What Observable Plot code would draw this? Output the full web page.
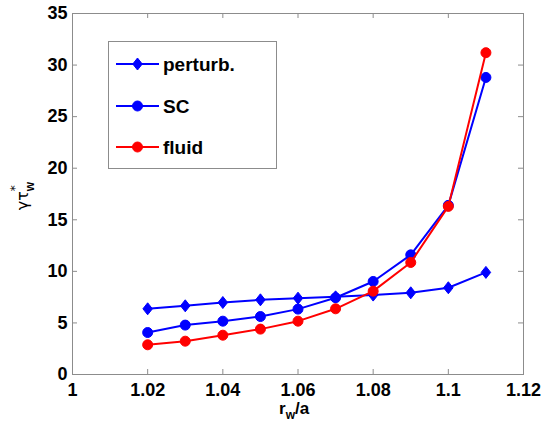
<!DOCTYPE html>
<html><head><meta charset="utf-8">
<script src="https://cdn.jsdelivr.net/npm/d3@7"></script>
<script src="https://cdn.jsdelivr.net/npm/@observablehq/plot@0.6"></script>
<style>body{margin:0;background:#fff}#chart svg{font-family:"Liberation Sans",Arial,sans-serif;background:#fff}</style>
</head><body><div id="chart"></div>
<script>
const rw = [1.02, 1.03, 1.04, 1.05, 1.06, 1.07, 1.08, 1.09, 1.10, 1.11];
const perturb = [6.37, 6.66, 6.98, 7.24, 7.40, 7.53, 7.70, 7.92, 8.41, 9.90];
const sc = [4.07, 4.79, 5.17, 5.62, 6.34, 7.44, 9.02, 11.6, 16.4, 28.8];
const fluid = [2.88, 3.23, 3.81, 4.40, 5.17, 6.37, 8.08, 10.86, 16.3, 31.2];
const seriesNames = ["perturb.", "SC", "fluid"];
const seriesColors = ["#0000ff", "#0000ff", "#ff0000"];
const seriesSymbols = ["tallDiamond", "circle", "circle"];
const xTicks = [1, 1.02, 1.04, 1.06, 1.08, 1.10, 1.12];
const yTicks = [0, 5, 10, 15, 20, 25, 30, 35];

const W = 543, H = 422;
const mL = 72, mR = 20, mT = 13, mB = 48;
const fw = W - mL - mR, fh = H - mT - mB;
const tickLen = 5;

const tallDiamond = {
  draw(ctx, size) {
    const r = Math.sqrt(size / Math.PI);
    const w = r * 0.95, h = r * 1.2;
    ctx.moveTo(0, -h); ctx.lineTo(w, 0); ctx.lineTo(0, h); ctx.lineTo(-w, 0); ctx.closePath();
  }
};
const symMap = {tallDiamond, circle: "circle"};

const allSeries = [perturb, sc, fluid];
const rows = [];
allSeries.forEach((vals, si) => vals.forEach((v, i) => rows.push({x: rw[i], y: v, s: si})));

const marks = [];
const gray = "#8c8c8c";
marks.push(Plot.frame({stroke: gray}));
marks.push(Plot.tickX(xTicks, {x: d => d, stroke: gray, insetTop: fh - tickLen}));
marks.push(Plot.tickX(xTicks, {x: d => d, stroke: gray, insetBottom: fh - tickLen}));
marks.push(Plot.tickY(yTicks, {y: d => d, stroke: gray, insetRight: fw - tickLen}));
marks.push(Plot.tickY(yTicks, {y: d => d, stroke: gray, insetLeft: fw - tickLen}));
marks.push(Plot.axisX({ticks: xTicks, tickSize: 0, tickPadding: 9, fontSize: 18, fontWeight: "bold", fill: "#000",
  tickFormat: d => String(+d.toFixed(2)), label: null}));
marks.push(Plot.axisY({ticks: yTicks, tickSize: 0, tickPadding: 5, fontSize: 18, fontWeight: "bold", fill: "#000", label: null}));
seriesNames.forEach((name, si) => {
  const data = rows.filter(r => r.s === si);
  marks.push(Plot.line(data, {x: "x", y: "y", stroke: seriesColors[si], strokeWidth: 2}));
  marks.push(Plot.dot(data, {x: "x", y: "y", fill: seriesColors[si], stroke: seriesColors[si], strokeWidth: 1,
    r: 5, symbol: symMap[seriesSymbols[si]]}));
});

const plot = Plot.plot({
  width: W, height: H,
  marginLeft: mL, marginRight: mR, marginTop: mT, marginBottom: mB,
  x: {domain: [1, 1.12]},
  y: {domain: [0, 35]},
  marks
});
document.getElementById("chart").appendChild(plot);

const svg = d3.select(plot);
const xl = svg.append("text").attr("x", 279).attr("y", 414).attr("text-anchor", "start")
  .attr("font-size", 17).attr("font-weight", "bold").attr("fill", "#000");
xl.append("tspan").text("r");
xl.append("tspan").attr("font-size", 12).attr("dy", 5).text("w");
xl.append("tspan").attr("dy", -5).text("/a");

const yl = svg.append("text").attr("transform", "translate(28,196) rotate(-90)").attr("text-anchor", "middle")
  .attr("font-size", 16).attr("fill", "#000").attr("font-family", "'DejaVu Sans', sans-serif");
yl.append("tspan").text("γτ");
yl.append("tspan").attr("font-size", 12).attr("dy", -9).text("*");
yl.append("tspan").attr("font-size", 12).attr("dx", -6).attr("dy", 15).attr("font-family", "'Liberation Sans', Arial").attr("font-weight", "bold").text("w");

const lg = svg.append("g");
lg.append("rect").attr("x", 108.5).attr("y", 41.5).attr("width", 168).attr("height", 127)
  .attr("fill", "#fff").attr("stroke", gray);
const rowY = [64, 106, 147];
seriesNames.forEach((name, si) => {
  const y = rowY[si];
  lg.append("line").attr("x1", 116).attr("x2", 159).attr("y1", y).attr("y2", y)
    .attr("stroke", seriesColors[si]).attr("stroke-width", 2);
  lg.append("path").attr("transform", `translate(137.5,${y})`)
    .attr("d", d3.symbol(seriesSymbols[si] === "circle" ? d3.symbolCircle : tallDiamond, 25 * Math.PI)())
    .attr("fill", seriesColors[si]).attr("stroke", seriesColors[si]);
  lg.append("text").attr("x", 163).attr("y", y).attr("dy", "0.35em").attr("font-size", 19)
    .attr("text-anchor", "start").attr("font-weight", "bold").attr("fill", "#000").text(name);
});
</script></body></html>
